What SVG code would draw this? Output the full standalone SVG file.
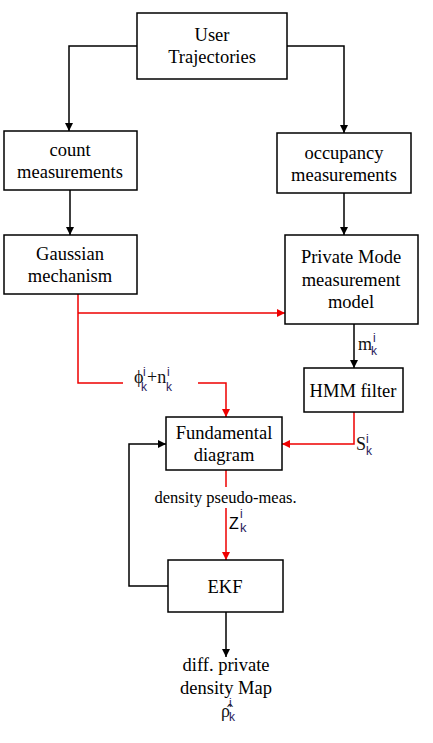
<svg xmlns="http://www.w3.org/2000/svg" width="433" height="743" viewBox="0 0 433 743">
<style>
.box{fill:#fff;stroke:#000;stroke-width:1.5}
.t{font-family:"Liberation Serif","Times New Roman",serif;font-size:18.5px;fill:#000;text-anchor:middle}
.m{font-family:"Liberation Serif","Times New Roman",serif;font-size:18px;fill:#111}
.s{font-family:"Liberation Sans",Arial,sans-serif;font-size:12px;fill:#2a1a5a}
.k{stroke:#000;stroke-width:1.5;fill:none}
.r{stroke:#e00;stroke-width:1.5;fill:none}
</style>
<defs>
<marker id="ab" viewBox="0 0 10 10" refX="10" refY="5" markerWidth="8" markerHeight="8" markerUnits="userSpaceOnUse" orient="auto"><path d="M0,0L10,5L0,10z" fill="#000"/></marker>
<marker id="ar" viewBox="0 0 10 10" refX="10" refY="5" markerWidth="8" markerHeight="8" markerUnits="userSpaceOnUse" orient="auto"><path d="M0,0L10,5L0,10z" fill="#e00"/></marker>
</defs>
<g id="connectors">
<path class="k" d="M137,46H69V131" marker-end="url(#ab)"/>
<path class="k" d="M287,46H344V133" marker-end="url(#ab)"/>
<path class="k" d="M70,190V235" marker-end="url(#ab)"/>
<path class="k" d="M344,193V235" marker-end="url(#ab)"/>
<path class="r" d="M78,294V383H123"/>
<path class="r" d="M78,313H285" marker-end="url(#ar)"/>
<path class="r" d="M198,383H226V417" marker-end="url(#ar)"/>
<path class="k" d="M354,324V368" marker-end="url(#ab)"/>
<path class="r" d="M354,412V444H282" marker-end="url(#ar)"/>
<path class="r" d="M226,470V487"/>
<path class="r" d="M226,508V560" marker-end="url(#ar)"/>
<path class="k" d="M168,586H129V444H166" marker-end="url(#ab)"/>
<path class="k" d="M226,612V657" marker-end="url(#ab)"/>
</g>
<g id="user"><rect class="box" x="137" y="13" width="150" height="66"/><text class="t" x="212" y="41">User</text><text class="t" x="212" y="63">Trajectories</text></g>
<g id="count"><rect class="box" x="4" y="131" width="133" height="59"/><text class="t" x="70" y="156">count</text><text class="t" x="70" y="178">measurements</text></g>
<g id="occupancy"><rect class="box" x="277" y="133" width="134" height="60"/><text class="t" x="344" y="159">occupancy</text><text class="t" x="344" y="181">measurements</text></g>
<g id="gaussian"><rect class="box" x="4" y="235" width="133" height="59"/><text class="t" x="70" y="260">Gaussian</text><text class="t" x="70" y="282">mechanism</text></g>
<g id="private"><rect class="box" x="285" y="235" width="133" height="89"/><text class="t" x="351" y="263">Private Mode</text><text class="t" x="351" y="286">measurement</text><text class="t" x="351" y="308">model</text></g>
<g id="hmm"><rect class="box" x="304" y="368" width="99" height="44"/><text class="t" x="353" y="397">HMM filter</text></g>
<g id="fundamental"><rect class="box" x="166" y="417" width="116" height="53"/><text class="t" x="224" y="439">Fundamental</text><text class="t" x="224" y="461">diagram</text></g>
<g id="ekf"><rect class="box" x="168" y="560" width="115" height="52"/><text class="t" x="225" y="593">EKF</text></g>
<g id="output"><text class="t" x="226" y="671">diff. private</text><text class="t" x="226" y="694">density Map</text>
<text class="m" x="221" y="717">ρ̂</text><text class="s" x="229" y="707">i</text><text class="s" x="229" y="721">k</text></g>
<g id="labels">
<text class="m" x="134" y="383">ϕ</text><text class="s" x="143" y="376">i</text><text class="s" x="141" y="391">k</text><text class="m" x="147" y="383">+n</text><text class="s" x="167" y="376">i</text><text class="s" x="166" y="391">k</text>
<text class="m" x="358" y="350">m</text><text class="s" x="373" y="342">i</text><text class="s" x="371" y="355">k</text>
<text class="m" x="356" y="450">S</text><text class="s" x="366" y="443">i</text><text class="s" x="366" y="455">k</text>
<text class="t" x="225.5" y="503" style="font-size:16.5px">density pseudo-meas.</text>
<text class="s" x="229" y="529" style="font-size:16px;fill:#000">Z</text><text class="s" x="240" y="518">i</text><text class="s" x="240" y="532" style="font-size:13px">k</text>
</g>
</svg>
